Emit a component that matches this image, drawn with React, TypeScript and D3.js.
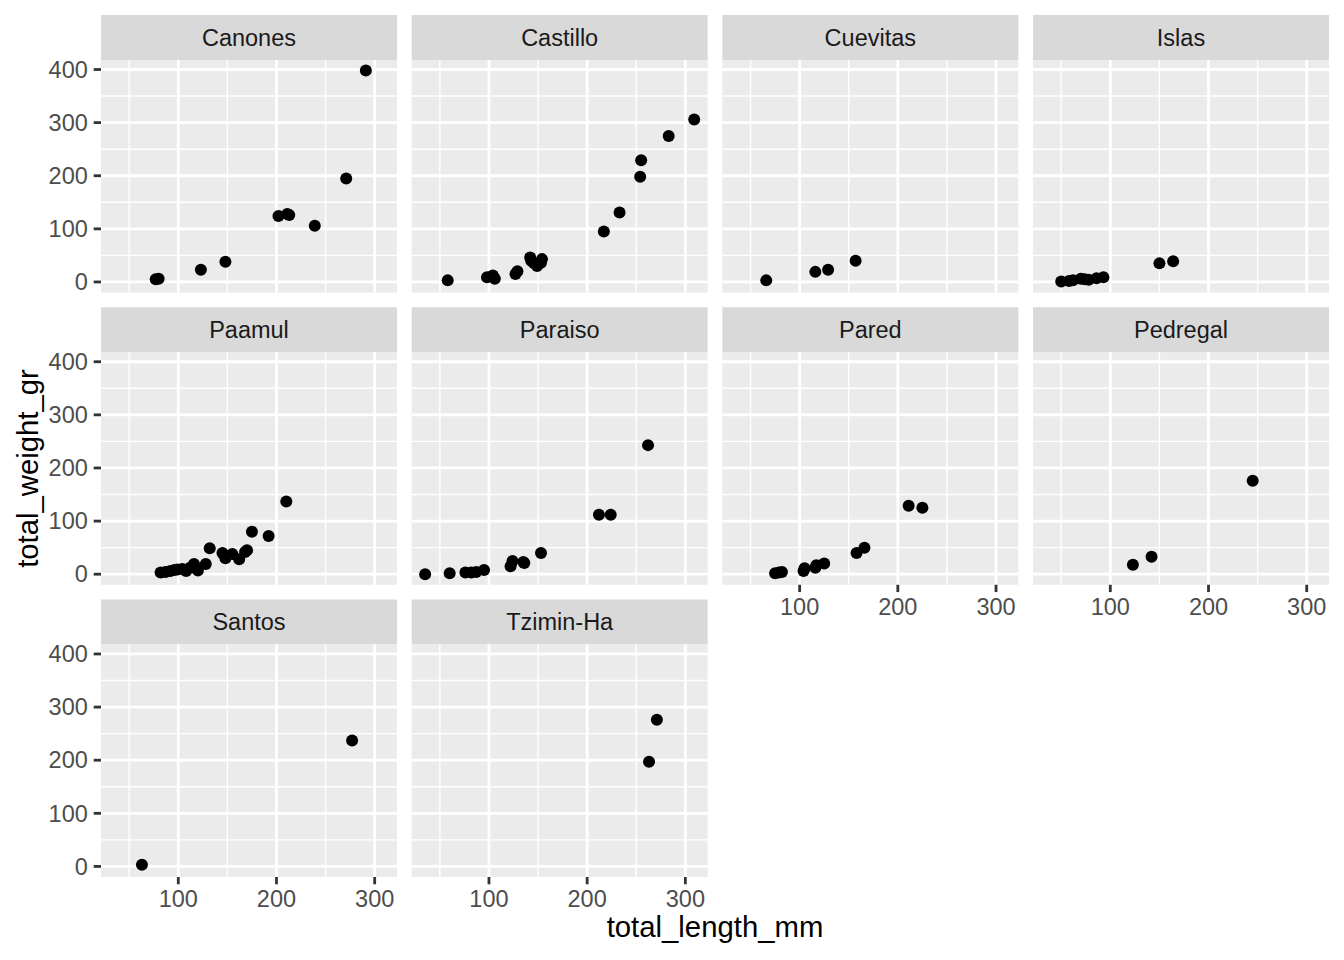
import * as d3 from 'd3';

// site measurements: [total_length_mm, total_weight_gr]
const canones: [number, number][] = [
  [77, 5], [80, 6], [123, 23], [148, 38], [202, 124], [211, 128], [213, 126],
  [239, 106], [271, 195], [291, 398],
];
const castillo: [number, number][] = [
  [58, 3], [98, 9], [104, 12], [106, 6], [127, 15], [129, 20], [142, 46],
  [143, 40], [146, 35], [149, 30], [153, 36], [154, 43], [217, 95], [233, 131],
  [254, 198], [255, 229], [283, 275], [309, 306],
];
const cuevitas: [number, number][] = [
  [66, 3], [116, 19], [129, 23], [157, 40],
];
const islas: [number, number][] = [
  [50, 1], [58, 2], [62, 3], [70, 6], [74, 5], [78, 4], [86, 7], [93, 9],
  [150, 35], [164, 39],
];
const paamul: [number, number][] = [
  [82, 3], [87, 4], [92, 6], [96, 8], [99, 9], [104, 10], [108, 6], [112, 12],
  [116, 19], [120, 7], [128, 19], [132, 49], [145, 40], [148, 30], [155, 38],
  [162, 28], [168, 42], [170, 45], [175, 80], [192, 72], [210, 137],
];
const paraiso: [number, number][] = [
  [35, 0], [60, 2], [76, 3], [82, 3], [87, 4], [95, 8], [122, 15], [124, 25],
  [135, 23], [136, 21], [153, 40], [212, 112], [224, 112], [262, 243],
];
const pared: [number, number][] = [
  [75, 2], [79, 3], [82, 4], [104, 6], [105, 11], [116, 12], [117, 17],
  [125, 20], [158, 40], [166, 50], [211, 129], [225, 125],
];
const pedregal: [number, number][] = [
  [123, 18], [142, 33], [245, 176],
];
const santos: [number, number][] = [
  [63, 3], [277, 237],
];
const tziminHa: [number, number][] = [
  [263, 197], [271, 276],
];

const sites = ['Canones', 'Castillo', 'Cuevitas', 'Islas', 'Paamul', 'Paraiso', 'Pared', 'Pedregal', 'Santos', 'Tzimin-Ha'];
const siteData = [canones, castillo, cuevitas, islas, paamul, paraiso, pared, pedregal, santos, tziminHa];

const xTicks = [100, 200, 300];
const yTicks = [0, 100, 200, 300, 400];

const W = 1344;
const H = 960;
const NCOL = 4;
const left = 101;
const right = 1329;
const top = 15;
const bottom = 877;
const gap = 14.7;
const stripH = 45;
const panelW = (right - left - gap * (NCOL - 1)) / NCOL;
const panelH = (bottom - top - gap * 2) / 3 - stripH;

const font = '"Liberation Sans", Arial, Helvetica, sans-serif';

export default function App() {
  const all = siteData.flat();
  const [x0, x1] = d3.extent(all, (d) => d[0]) as [number, number];
  const [y0, y1] = d3.extent(all, (d) => d[1]) as [number, number];
  const xe = (x1 - x0) * 0.05;
  const ye = (y1 - y0) * 0.05;
  const x = d3.scaleLinear().domain([x0 - xe, x1 + xe]).range([0, panelW]);
  const y = d3.scaleLinear().domain([y0 - ye, y1 + ye]).range([panelH, 0]);
  const xMinor = [50, 150, 250];
  const yMinor = [50, 150, 250, 350];

  return (
    <svg width={W} height={H} style={{ position: 'absolute', left: 0, top: 0, background: '#fff' }} fontFamily={font}>
      {sites.map((site, i) => {
        const col = i % NCOL;
        const row = Math.floor(i / NCOL);
        const px = left + col * (panelW + gap);
        const py = top + row * (stripH + panelH + gap) + stripH;
        const showX = i + NCOL >= sites.length;
        const showY = col === 0;
        return (
          <g key={site}>
            <rect x={px} y={py - stripH} width={panelW} height={stripH} fill="#d9d9d9" />
            <text x={px + panelW / 2} y={py - stripH / 2} dy="0.35em" textAnchor="middle" fontSize={23.5} fill="#1a1a1a">
              {site}
            </text>
            <g transform={`translate(${px},${py})`}>
              <rect width={panelW} height={panelH} fill="#ebebeb" />
              {xMinor.map((t) => (
                <line key={'xm' + t} x1={x(t)} x2={x(t)} y1={0} y2={panelH} stroke="#fff" strokeWidth={1.4} />
              ))}
              {yMinor.map((t) => (
                <line key={'ym' + t} x1={0} x2={panelW} y1={y(t)} y2={y(t)} stroke="#fff" strokeWidth={1.4} />
              ))}
              {xTicks.map((t) => (
                <line key={'x' + t} x1={x(t)} x2={x(t)} y1={0} y2={panelH} stroke="#fff" strokeWidth={2.8} />
              ))}
              {yTicks.map((t) => (
                <line key={'y' + t} x1={0} x2={panelW} y1={y(t)} y2={y(t)} stroke="#fff" strokeWidth={2.8} />
              ))}
              {siteData[i].map((d, k) => (
                <circle key={k} cx={x(d[0])} cy={y(d[1])} r={6} fill="#000" />
              ))}
              {showY &&
                yTicks.map((t) => (
                  <g key={'yt' + t}>
                    <line x1={-7.3} x2={0} y1={y(t)} y2={y(t)} stroke="#333" strokeWidth={2.8} />
                    <text x={-13.2} y={y(t)} dy="0.35em" textAnchor="end" fontSize={23.5} fill="#4d4d4d">
                      {t}
                    </text>
                  </g>
                ))}
              {showX &&
                xTicks.map((t) => (
                  <g key={'xt' + t}>
                    <line x1={x(t)} x2={x(t)} y1={panelH} y2={panelH + 7.3} stroke="#333" strokeWidth={2.8} />
                    <text x={x(t)} y={panelH + 30} textAnchor="middle" fontSize={23.5} fill="#4d4d4d">
                      {t}
                    </text>
                  </g>
                ))}
            </g>
          </g>
        );
      })}
      <text x={(left + right) / 2} y={937} textAnchor="middle" fontSize={29.3} fill="#000">
        total_length_mm
      </text>
      <text
        transform={`translate(38,${(top + stripH + bottom) / 2}) rotate(-90)`}
        textAnchor="middle"
        fontSize={29.3}
        fill="#000"
      >
        total_weight_gr
      </text>
    </svg>
  );
}
